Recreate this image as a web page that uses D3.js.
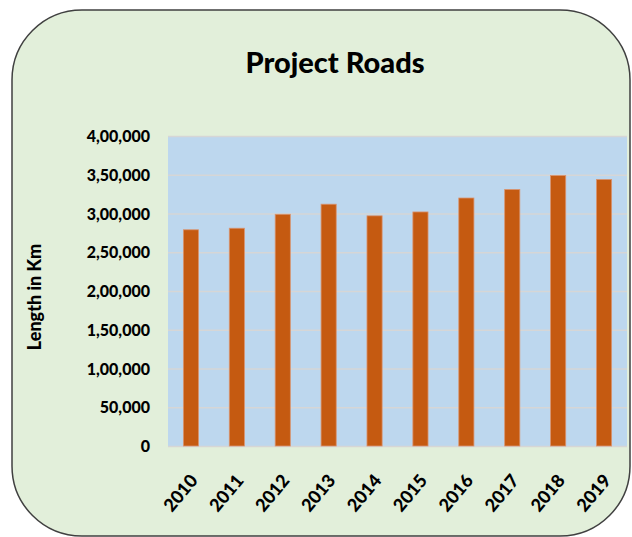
<!DOCTYPE html>
<meta charset="utf-8">
<html>
<head>
<style>
    body { margin: 0; background: #fff; }
    svg text { font-family: Lato, "Open Sans", sans-serif; font-weight: bold; fill: #000; }
</style>
</head>
<body>
<svg width="632" height="537"></svg>
<script src="https://cdn.jsdelivr.net/npm/d3@7"></script>
<script>

    var years = ["2010", "2011", "2012", "2013", "2014", "2015", "2016", "2017", "2018", "2019"];
    var lengths = [279000, 281000, 299000, 312000, 297000, 302000, 320000, 331000, 349000, 344000];
    var yTicks = [0, 50000, 100000, 150000, 200000, 250000, 300000, 350000, 400000];

    var svg = d3.select("svg");
    var plot = { left: 168, top: 136, right: 627, bottom: 446 };

    // indian grouping: 4,00,000
    function inr(v) {
        var s = String(v);
        if (s.length <= 3) return s;
        var last3 = s.slice(-3), rest = s.slice(0, -3);
        rest = rest.replace(/\B(?=(\d{2})+(?!\d))/g, ",");
        return rest + "," + last3;
    }

    // outer rounded panel
    svg.append("rect")
        .attr("x", 12).attr("y", 10)
        .attr("width", 618).attr("height", 526)
        .attr("rx", 70).attr("ry", 70)
        .attr("fill", "#E2EFDA")
        .attr("stroke", "#404040")
        .attr("stroke-width", 1.5);

    svg.append("text")
        .attr("x", 335).attr("y", 73)
        .attr("text-anchor", "middle")
        .style("font-size", "29px")
        .style("font-weight", 900)
        .text("Project Roads");

    var x = d3.scaleBand()
        .domain(years)
        .range([plot.left, plot.right])
        .paddingInner(0.67)
        .paddingOuter(0.335);

    var y = d3.scaleLinear()
        .domain([0, 400000])
        .range([plot.bottom, plot.top]);

    svg.append("rect")
        .attr("x", plot.left).attr("y", plot.top)
        .attr("width", plot.right - plot.left)
        .attr("height", plot.bottom - plot.top)
        .attr("fill", "#BDD7EE");

    // gridlines
    svg.append("g")
        .attr("class", "grid")
        .attr("transform", "translate(" + plot.left + ",0)")
        .call(d3.axisLeft(y).tickValues(yTicks).tickSize(-(plot.right - plot.left)).tickFormat(""))
        .call(g => g.select(".domain").remove())
        .call(g => g.selectAll("line").attr("stroke", "#D6D6D6").attr("stroke-width", 1.5));

    // y axis labels
    svg.append("g")
        .attr("transform", "translate(" + (plot.left - 18) + ",0)")
        .call(d3.axisLeft(y).tickValues(yTicks).tickSize(0).tickPadding(0).tickFormat(inr))
        .call(g => g.select(".domain").remove())
        .call(g => g.selectAll("text")
            .style("font-size", "16px")
            .style("font-family", "Lato, sans-serif")
            .style("font-weight", 900)
            .attr("dy", "0.35em"));

    svg.append("g")
        .selectAll("rect")
        .data(lengths)
        .enter().append("rect")
        .attr("x", (d, i) => x(years[i]))
        .attr("y", d => y(d))
        .attr("width", x.bandwidth())
        .attr("height", d => y(0) - y(d))
        .attr("fill", "#C55A11")
        .attr("stroke", "#D99470")
        .attr("stroke-width", 0.8);

    // x axis labels, rotated
    svg.append("g")
        .attr("transform", "translate(0," + plot.bottom + ")")
        .call(d3.axisBottom(x).tickSize(0).tickPadding(0))
        .call(g => g.select(".domain").remove())
        .call(g => g.selectAll("text")
            .style("font-size", "18px")
            .style("font-family", "Lato, sans-serif")
            .style("font-weight", 900)
            .attr("text-anchor", "end")
            .attr("dy", "0.35em")
            .attr("transform", "translate(3,31) rotate(-50)"));

    svg.append("text")
        .attr("transform", "translate(41,297) rotate(-90)")
        .attr("text-anchor", "middle")
        .style("font-size", "18px")
        .style("font-weight", 900)
        .text("Length in Km");

</script>
</body>
</html>
